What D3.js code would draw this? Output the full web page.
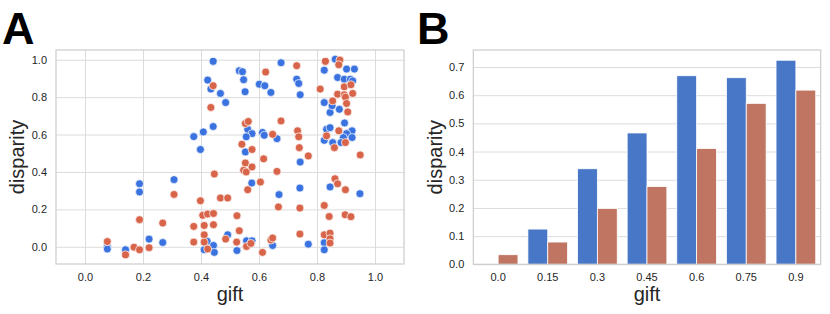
<!DOCTYPE html>
<html>
<head>
<meta charset="utf-8">
<script src="https://cdn.jsdelivr.net/npm/d3@7"></script>
<style>
  body { margin: 0; background: #fff; }
  svg { font-family: "Liberation Sans", Arial, sans-serif; }
  .tick text { fill: #262626; font-size: 11px; }
  .axis path { display: none; }
  .grid line { stroke: #dcdcdc; stroke-width: 1; }
  .frame { fill: none; stroke: #cccccc; stroke-width: 1.2; }
</style>
</head>
<body>
<div id="chart"></div>
<script>
// panel A: scatter points, blue and red groups
var blueGift = [0.077, 0.077, 0.14, 0.221, 0.268, 0.188, 0.188, 0.307,
  0.375, 0.398, 0.408, 0.442, 0.423, 0.434, 0.467, 0.485, 0.442,
  0.411, 0.421, 0.443, 0.446, 0.492, 0.524,
  0.532, 0.543, 0.547, 0.552, 0.561, 0.576, 0.556, 0.553, 0.575,
  0.557, 0.576, 0.601, 0.62, 0.641, 0.676, 0.612, 0.618, 0.662, 0.669, 0.647,
  0.730, 0.737, 0.742, 0.742, 0.741, 0.77,
  0.825, 0.863, 0.902, 0.929, 0.871, 0.894, 0.915, 0.923, 0.825, 0.845, 0.877, 0.852,
  0.895, 0.833, 0.845, 0.921, 0.902, 0.891, 0.921, 0.883, 0.825, 0.854,
  0.845, 0.948, 0.825, 0.825];
var blueDisp = [0.002, -0.012, -0.016, 0.041, 0.023, 0.337, 0.293, 0.359,
  0.589, 0.52, 0.614, 0.643, 0.891, 0.843, 0.82, 0.771, 0.991,
  -0.016, 0.03, 0.007, -0.03, 0.064, -0.02,
  0.941, 0.936, 0.893, 0.829, 0.628, 0.605, 0.588, 0.507, 0.341,
  0.032, 0.032, 0.869, 0.861, 0.825, 0.984, 0.611, 0.596, 0.578, 0.279, 0.007,
  0.896, 0.873, 0.8125, 0.453, 0.314, 0.014,
  0.944, 1.003, 0.95, 0.95, 0.905, 0.896, 0.896, 0.887, 0.771, 0.718, 0.735, 0.754,
  0.662, 0.628, 0.637, 0.62, 0.605, 0.584, 0.584, 0.557, 0.569, 0.557,
  0.32, 0.284, 0.022, -0.016];

var redGift = [0.077, 0.14, 0.169, 0.188, 0.221, 0.188, 0.268, 0.307,
  0.442, 0.434, 0.446, 0.398, 0.467, 0.492,
  0.406, 0.423, 0.443, 0.524, 0.375, 0.411, 0.443, 0.532, 0.411, 0.411, 0.375, 0.423, 0.485, 0.523,
  0.553, 0.563, 0.541, 0.576, 0.553, 0.547, 0.556, 0.576, 0.561, 0.557, 0.572,
  0.616, 0.662, 0.605, 0.667, 0.612, 0.641, 0.647, 0.623, 0.647, 0.676,
  0.730, 0.733, 0.737, 0.739, 0.77, 0.741, 0.741,
  0.829, 0.879, 0.875, 0.811, 0.894, 0.917, 0.871, 0.894, 0.923, 0.854, 0.898, 0.902, 0.906,
  0.875, 0.833, 0.86, 0.898, 0.949,
  0.862, 0.871, 0.898, 0.825, 0.842, 0.897, 0.917, 0.825, 0.845, 0.845, 0.845];
var redDisp = [0.028, -0.043, -0.002, -0.016, -0.005, 0.145, 0.127, 0.28,
  0.861, 0.745, 0.389, 0.246, 0.261, 0.261,
  0.168, 0.175, 0.178, 0.166, 0.109, 0.114, 0.118, 0.086, 0.064, 0.025, 0.025, -0.012, 0.041, 0.025,
  0.659, 0.67, 0.548, 0.52, 0.448, 0.409, 0.40, 0.427, 0.305, 0.002, 0.018,
  0.47, 0.403, 0.346, 0.213, -0.03, 0.036, 0.047, 0.934, 0.601, 0.673,
  0.968, 0.62, 0.588, 0.53, 0.486, 0.207, 0.068,
  0.991, 0.998, 0.973, 0.843, 0.855, 0.866, 0.816, 0.8125, 0.82, 0.78, 0.80, 0.766, 0.721,
  0.62, 0.593, 0.53, 0.557, 0.491,
  0.364, 0.337, 0.305, 0.221, 0.162, 0.171, 0.161, 0.064, 0.073, 0.043, 0.02];

// panel B: mean disparity by gift level
var barCats = ['0.0', '0.15', '0.3', '0.45', '0.6', '0.75', '0.9'];
var barBlue = [0, 0.125, 0.339, 0.466, 0.669, 0.662, 0.724];
var barRed = [0.034, 0.079, 0.198, 0.276, 0.411, 0.571, 0.618];

var blueDot = '#3a73df', redDot = '#d8654a';
var blueBar = '#4877c8', redBar = '#bf7562';

var svg = d3.select('#chart').append('svg').attr('width', 830).attr('height', 314);

function panelLetter(x, label) {
  svg.append('text')
    .attr('x', x)
    .attr('y', 43.5)
    .style('font-size', '45px')
    .style('font-weight', 'bold')
    .style('fill', '#000')
    .text(label);
}

function axisLabels(left, right, top, bottom, yLabelX) {
  svg.append('text')
    .attr('x', (left + right) / 2)
    .attr('y', 301)
    .attr('text-anchor', 'middle')
    .style('font-size', '20px')
    .style('fill', '#262626')
    .text('gift');
  svg.append('text')
    .attr('transform', 'translate(' + yLabelX + ',' + (top + bottom) / 2 + ') rotate(-90)')
    .attr('text-anchor', 'middle')
    .style('font-size', '20px')
    .style('fill', '#262626')
    .text('disparity');
}

// ---------- panel A ----------
var aL = 56, aR = 404, aT = 50, aB = 264;
var xA = d3.scaleLinear().domain([-0.1, 1.1]).range([aL, aR]);
var yA = d3.scaleLinear().domain([-0.092, 1.052]).range([aB, aT]);

svg.append('g')
  .attr('class', 'grid')
  .attr('transform', 'translate(0,' + aB + ')')
  .call(d3.axisBottom(xA).tickValues([0, 0.2, 0.4, 0.6, 0.8, 1.0]).tickSize(-(aB - aT)).tickFormat(''))
  .select('.domain').remove();
svg.append('g')
  .attr('class', 'grid')
  .attr('transform', 'translate(' + aL + ',0)')
  .call(d3.axisLeft(yA).tickValues([0, 0.2, 0.4, 0.6, 0.8, 1.0]).tickSize(-(aR - aL)).tickFormat(''))
  .select('.domain').remove();

svg.append('g')
  .attr('class', 'axis')
  .attr('transform', 'translate(0,' + (aB + 6) + ')')
  .call(d3.axisBottom(xA).tickValues([0, 0.2, 0.4, 0.6, 0.8, 1.0]).tickSize(0).tickFormat(d3.format('.1f')));
svg.append('g')
  .attr('class', 'axis')
  .attr('transform', 'translate(' + (aL - 6) + ',0)')
  .call(d3.axisLeft(yA).tickValues([0, 0.2, 0.4, 0.6, 0.8, 1.0]).tickSize(0).tickFormat(d3.format('.1f')));

var pointsA = blueGift.map(function (g, i) { return { gift: g, disp: blueDisp[i], c: blueDot }; })
  .concat(redGift.map(function (g, i) { return { gift: g, disp: redDisp[i], c: redDot }; }));

svg.append('g')
  .selectAll('circle')
  .data(pointsA)
  .enter()
  .append('circle')
  .attr('cx', function (d) { return xA(d.gift); })
  .attr('cy', function (d) { return yA(d.disp); })
  .attr('r', 4)
  .attr('fill', function (d) { return d.c; })
  .attr('stroke', '#fff')
  .attr('stroke-width', 0.7);

svg.append('rect').attr('class', 'frame')
  .attr('x', aL).attr('y', aT).attr('width', aR - aL).attr('height', aB - aT);

// ---------- panel B ----------
var bL = 473.3, bR = 820.7, bT = 50, bB = 264.3;
var xB = d3.scaleBand().domain(barCats).range([bL, bR]).paddingInner(0.2).paddingOuter(0.1);
var xHue = d3.scaleBand().domain(['blue', 'red']).range([0, xB.bandwidth()]);
var yB = d3.scaleLinear().domain([0, 0.7603]).range([bB, bT]);

svg.append('g')
  .attr('class', 'grid')
  .attr('transform', 'translate(' + bL + ',0)')
  .call(d3.axisLeft(yB).tickValues(d3.range(0, 0.71, 0.1)).tickSize(-(bR - bL)).tickFormat(''))
  .select('.domain').remove();

svg.append('g')
  .attr('class', 'axis')
  .attr('transform', 'translate(0,' + (bB + 6) + ')')
  .call(d3.axisBottom(xB).tickSize(0));
svg.append('g')
  .attr('class', 'axis')
  .attr('transform', 'translate(' + (bL - 6) + ',0)')
  .call(d3.axisLeft(yB).tickValues(d3.range(0, 0.71, 0.1)).tickSize(0).tickFormat(d3.format('.1f')));

var barsB = [];
barCats.forEach(function (c, i) {
  barsB.push({ cat: c, hue: 'blue', v: barBlue[i], col: blueBar });
  barsB.push({ cat: c, hue: 'red', v: barRed[i], col: redBar });
});

svg.append('g')
  .selectAll('rect')
  .data(barsB.filter(function (d) { return d.v > 0; }))
  .enter()
  .append('rect')
  .attr('x', function (d) { return xB(d.cat) + xHue(d.hue); })
  .attr('y', function (d) { return yB(d.v); })
  .attr('width', xHue.bandwidth())
  .attr('height', function (d) { return yB(0) - yB(d.v); })
  .attr('fill', function (d) { return d.col; })
  .attr('stroke', '#fff')
  .attr('stroke-width', 0.8);

svg.append('rect').attr('class', 'frame')
  .attr('x', bL).attr('y', bT).attr('width', bR - bL).attr('height', bB - bT);

panelLetter(2, 'A');
panelLetter(417, 'B');
axisLabels(aL, aR, aT, aB, 24);
axisLabels(bL, bR, bT, bB, 442);
</script>
</body>
</html>
